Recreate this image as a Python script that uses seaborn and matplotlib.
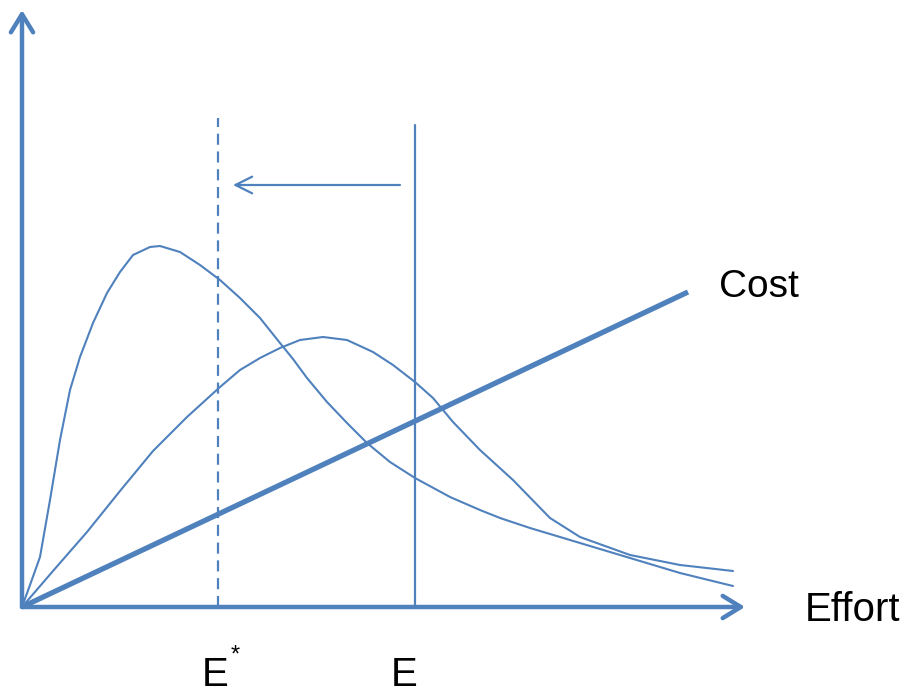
import numpy as np
import pandas as pd
import seaborn as sns
import matplotlib.pyplot as plt
from matplotlib.patches import FancyArrowPatch

# curve values (effort, value)
effort_a = [0, 8, 18, 28, 38, 48, 58, 71, 85, 98, 111, 128, 138, 158, 178, 198, 218,
            238, 258, 271, 285, 305, 325, 345, 368, 393, 428, 458, 478, 508, 558,
            608, 658, 711]
value_a = [0, 22, 50, 107, 167, 217, 250, 284, 314, 335, 352, 360, 361, 355, 342, 327, 309,
           289, 264, 248, 229, 205, 184, 164, 145, 129, 110, 97, 89, 79, 64,
           49, 34, 21]

effort_b = [0, 31, 65, 98, 131, 165, 198, 218, 238, 258, 278, 301, 325, 351, 371,
            393, 411, 431, 458, 491, 528, 558, 608, 658, 711]
value_b = [0, 36, 75, 116, 156, 190, 220, 237, 249, 259, 267, 270, 267, 255, 242,
           225, 209, 185, 157, 127, 89, 70, 52, 42, 36]

cost_effort = [0, 666]
cost_value = [0, 315]

e_star = 196
e_now = 393
axis_x_end = 723
axis_y_end = 597

blue = '#4F81BD'

sns.set_style('white')
plt.rcParams['font.family'] = ['Liberation Sans', 'DejaVu Sans']
plt.rcParams['text.color'] = 'black'

fig = plt.figure(figsize=(9.11, 6.94), dpi=100)
ax = fig.add_axes([0, 0, 1, 1])
ax.set_xlim(-22, 889)
ax.set_ylim(-87, 607)
ax.axis('off')

df_a = pd.DataFrame({'effort': effort_a, 'value': value_a})
df_b = pd.DataFrame({'effort': effort_b, 'value': value_b})
df_c = pd.DataFrame({'effort': cost_effort, 'value': cost_value})
sns.lineplot(data=df_a, x='effort', y='value', color=blue, lw=1.5, sort=False, ax=ax)
sns.lineplot(data=df_b, x='effort', y='value', color=blue, lw=1.5, sort=False, ax=ax)
sns.lineplot(data=df_c, x='effort', y='value', color=blue, lw=3.8, ax=ax,
             solid_capstyle='butt')

# vertical markers
ax.plot([e_star, e_star], [0, 489], color=blue, lw=1.6, dashes=(5, 3))
ax.plot([e_now, e_now], [0, 482], color=blue, lw=1.6)

# axes with arrows
for start, end in [((0, 0), (axis_x_end, 0)), ((0, 0), (0, axis_y_end))]:
    ax.add_patch(FancyArrowPatch(start, end, arrowstyle='->,head_length=13,head_width=8',
                                 mutation_scale=1, color=blue, lw=3.2,
                                 capstyle='round', joinstyle='round', shrinkA=0, shrinkB=0))

# shift arrow from E to E*
ax.add_patch(FancyArrowPatch((e_now - 15, 422), (e_star + 15, 422),
                             arrowstyle='->,head_length=12,head_width=6',
                             mutation_scale=1, color=blue, lw=1.6, shrinkA=0, shrinkB=0))

ax.text(737, 310, 'Cost', fontsize=28, color='black', ha='center', va='baseline')
ax.text(830, -14, 'Effort', fontsize=29, color='black', ha='center', va='baseline')
ax.text(193, -79, 'E', fontsize=29, color='black', ha='center', va='baseline')
ax.text(213, -55, '*', fontsize=17, color='black', ha='center', va='baseline')
ax.text(382, -79, 'E', fontsize=29, color='black', ha='center', va='baseline')

fig.savefig('out.png', dpi=100)
